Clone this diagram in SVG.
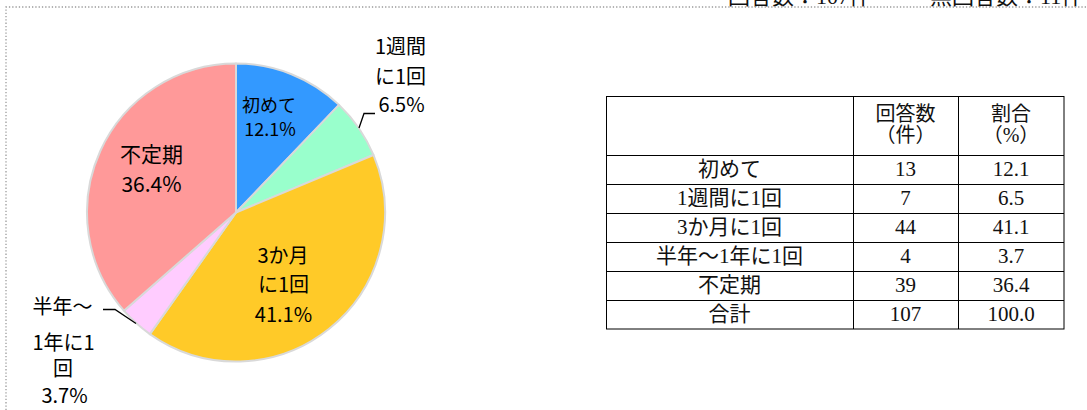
<svg xmlns="http://www.w3.org/2000/svg" width="1087" height="410" viewBox="0 0 1087 410">
<style>
.slice{stroke:#D9D9D9;stroke-width:2;stroke-linejoin:round}
.lbl{font-family:"Noto Sans CJK JP","Noto Sans",sans-serif;fill:#000;text-anchor:middle}
.tbl{font-family:"Liberation Serif","Noto Sans CJK JP",serif;font-size:21px;fill:#111;text-anchor:middle}
.hdr{font-size:20px}
.grid{stroke:#000;stroke-width:1;fill:none}
.lead{stroke:#000;stroke-width:1.3;fill:none}
.frame{stroke:#9A9A9A;stroke-width:1.3;stroke-dasharray:1.3 2;fill:none}
.cap{font-family:"Liberation Serif","Noto Sans CJK JP",serif;font-size:22px;fill:#111}
</style>
<rect x="0" y="0" width="1087" height="410" fill="#fff"/>
<g id="caption">
<text class="cap" x="728" y="3.5">回答数：107件</text>
<text class="cap" x="930" y="3.5">無回答数：11件</text>
</g>
<path class="frame" d="M6,410 L6,7 L1087,7"/>
<g id="pie">
<g id="slice-hajimete"><path class="slice" fill="#3399FF" d="M236,212.5 L236,63.5 A149,149 0 0 1 339.02,104.85 Z"/></g>
<g id="slice-weekly"><path class="slice" fill="#99FFCC" d="M236,212.5 L339.02,104.85 A149,149 0 0 1 373.45,154.98 Z"/></g>
<g id="slice-3months"><path class="slice" fill="#FFCA28" d="M236,212.5 L373.45,154.98 A149,149 0 0 1 149.86,334.08 Z"/></g>
<g id="slice-halfyear"><path class="slice" fill="#FFCCFF" d="M236,212.5 L149.86,334.08 A149,149 0 0 1 123.92,310.68 Z"/></g>
<g id="slice-irregular"><path class="slice" fill="#FF9999" d="M236,212.5 L123.92,310.68 A149,149 0 0 1 236,63.5 Z"/></g>
</g>
<g id="connectors">
<polyline class="lead" points="375,113.5 364,113.5 359,128"/>
<polyline class="lead" points="103,309.5 115,309.5 136,323.5"/>
</g>
<g id="label-hajimete" class="lbl" font-size="18">
<text x="269" y="111.5">初めて</text>
<text x="270" y="136">12.1%</text>
</g>
<g id="label-weekly" class="lbl" font-size="20">
<text x="400.5" y="53.5">1週間</text>
<text x="400.5" y="83.5">に1回</text>
<text x="401.5" y="112">6.5%</text>
</g>
<g id="label-irregular" class="lbl" font-size="21">
<text x="151.5" y="161.5">不定期</text>
<text x="151.5" y="192">36.4%</text>
</g>
<g id="label-3months" class="lbl" font-size="20">
<text x="283" y="262.5">3か月</text>
<text x="283.5" y="291.5">に1回</text>
<text x="283.5" y="322">41.1%</text>
</g>
<g id="label-halfyear" class="lbl" font-size="20">
<text x="62.5" y="313.5">半年～</text>
<text x="63.5" y="350">1年に1</text>
<text x="63" y="375.5">回</text>
<text x="64.5" y="403">3.7%</text>
</g>
<g id="table">
<rect class="grid" x="606.5" y="96.5" width="457.5" height="232.5"/>
<path class="grid" d="M853.5,96.5 V329 M958.5,96.5 V329 M606.5,155.5 H1064 M606.5,184.5 H1064 M606.5,213.5 H1064 M606.5,242.5 H1064 M606.5,271.5 H1064 M606.5,300.5 H1064"/>
<text class="tbl hdr" x="905.5" y="120.5">回答数</text>
<text class="tbl hdr" x="905.5" y="141.5">（件）</text>
<text class="tbl hdr" x="1011" y="120.5">割合</text>
<text class="tbl hdr" x="1011" y="141.5">（%）</text>
<text class="tbl" x="729.5" y="176">初めて</text>
<text class="tbl" x="905.5" y="176">13</text>
<text class="tbl" x="1011" y="176">12.1</text>
<text class="tbl" x="729.5" y="205">1週間に1回</text>
<text class="tbl" x="905.5" y="205">7</text>
<text class="tbl" x="1011" y="205">6.5</text>
<text class="tbl" x="729.5" y="234">3か月に1回</text>
<text class="tbl" x="905.5" y="234">44</text>
<text class="tbl" x="1011" y="234">41.1</text>
<text class="tbl" x="729.5" y="263">半年～1年に1回</text>
<text class="tbl" x="905.5" y="263">4</text>
<text class="tbl" x="1011" y="263">3.7</text>
<text class="tbl" x="729.5" y="292">不定期</text>
<text class="tbl" x="905.5" y="292">39</text>
<text class="tbl" x="1011" y="292">36.4</text>
<text class="tbl" x="729.5" y="321">合計</text>
<text class="tbl" x="905.5" y="321">107</text>
<text class="tbl" x="1011" y="321">100.0</text>
</g>
</svg>
